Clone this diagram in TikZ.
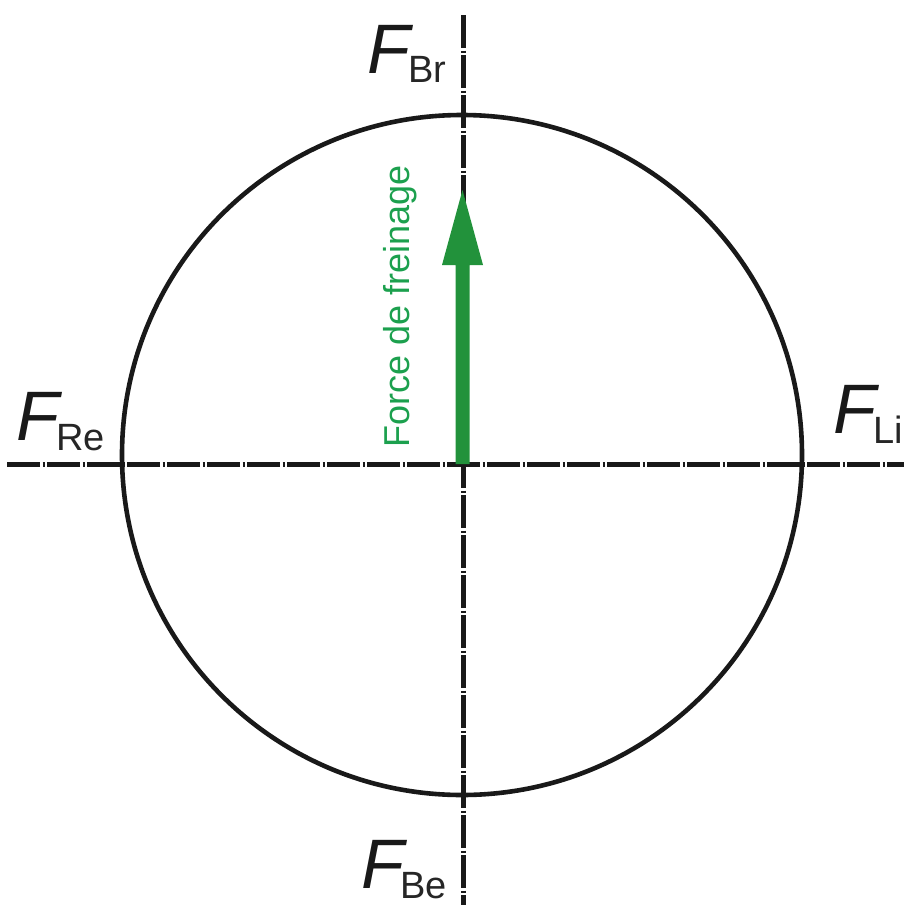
\documentclass[tikz,border=0pt]{standalone}
\usepackage{fontspec}
\setmainfont{Liberation Sans}
\definecolor{arrowgreen}{RGB}{34,146,59}
\definecolor{textgreen}{RGB}{28,160,78}
\tikzset{
  axis/.style={line width=5pt, black!90, dash pattern=on 33pt off 2.5pt on 2pt off 2.5pt},
  ring/.style={line width=4.6pt, black!90},
  flabel/.style={inner sep=0pt, anchor=base west, font=\fontsize{70}{70}\selectfont\itshape, black!90},
  sublabel/.style={inner sep=0pt, anchor=base west, font=\fontsize{38}{38}\selectfont, black!85},
  forcetext/.style={inner sep=0pt, rotate=90, font=\fontsize{36}{36}\selectfont, textgreen}
}
\begin{document}
\begin{tikzpicture}[x=1pt,y=-1pt]
\useasboundingbox (0,0) rectangle (904,905);
% axes
\coordinate (vtop) at (463,15);
\coordinate (vbot) at (463,905);
\coordinate (hl) at (7,464);
\coordinate (hr) at (904,464);
\draw[axis] (vtop) -- (vbot);
\draw[axis] (hl) -- (hr);
% circle
\coordinate (C) at (462,455);
\draw[ring] (C) circle[radius=340];
% green arrow
\coordinate (O) at (462.5,464);
\fill[arrowgreen] (455.5,464) -- (455.5,265) -- (442,265) -- (462.5,190) -- (483,265) -- (469.5,265) -- (469.5,464) -- cycle;
\node[forcetext] (ftext) at (400,306) {Force de freinage};
% labels
\node[flabel] (FRe) at (16,440) {F};
\node[sublabel] (FReS) at (56,450) {Re};
\node[flabel] (FLi) at (833,433) {F};
\node[sublabel] (FLiS) at (873,443) {Li};
\node[flabel] (FBr) at (367,73) {F};
\node[sublabel] (FBrS) at (408,82) {Br};
\node[flabel] (FBe) at (361,888) {F};
\node[sublabel] (FBeS) at (400,898) {Be};
\end{tikzpicture}
\end{document}
